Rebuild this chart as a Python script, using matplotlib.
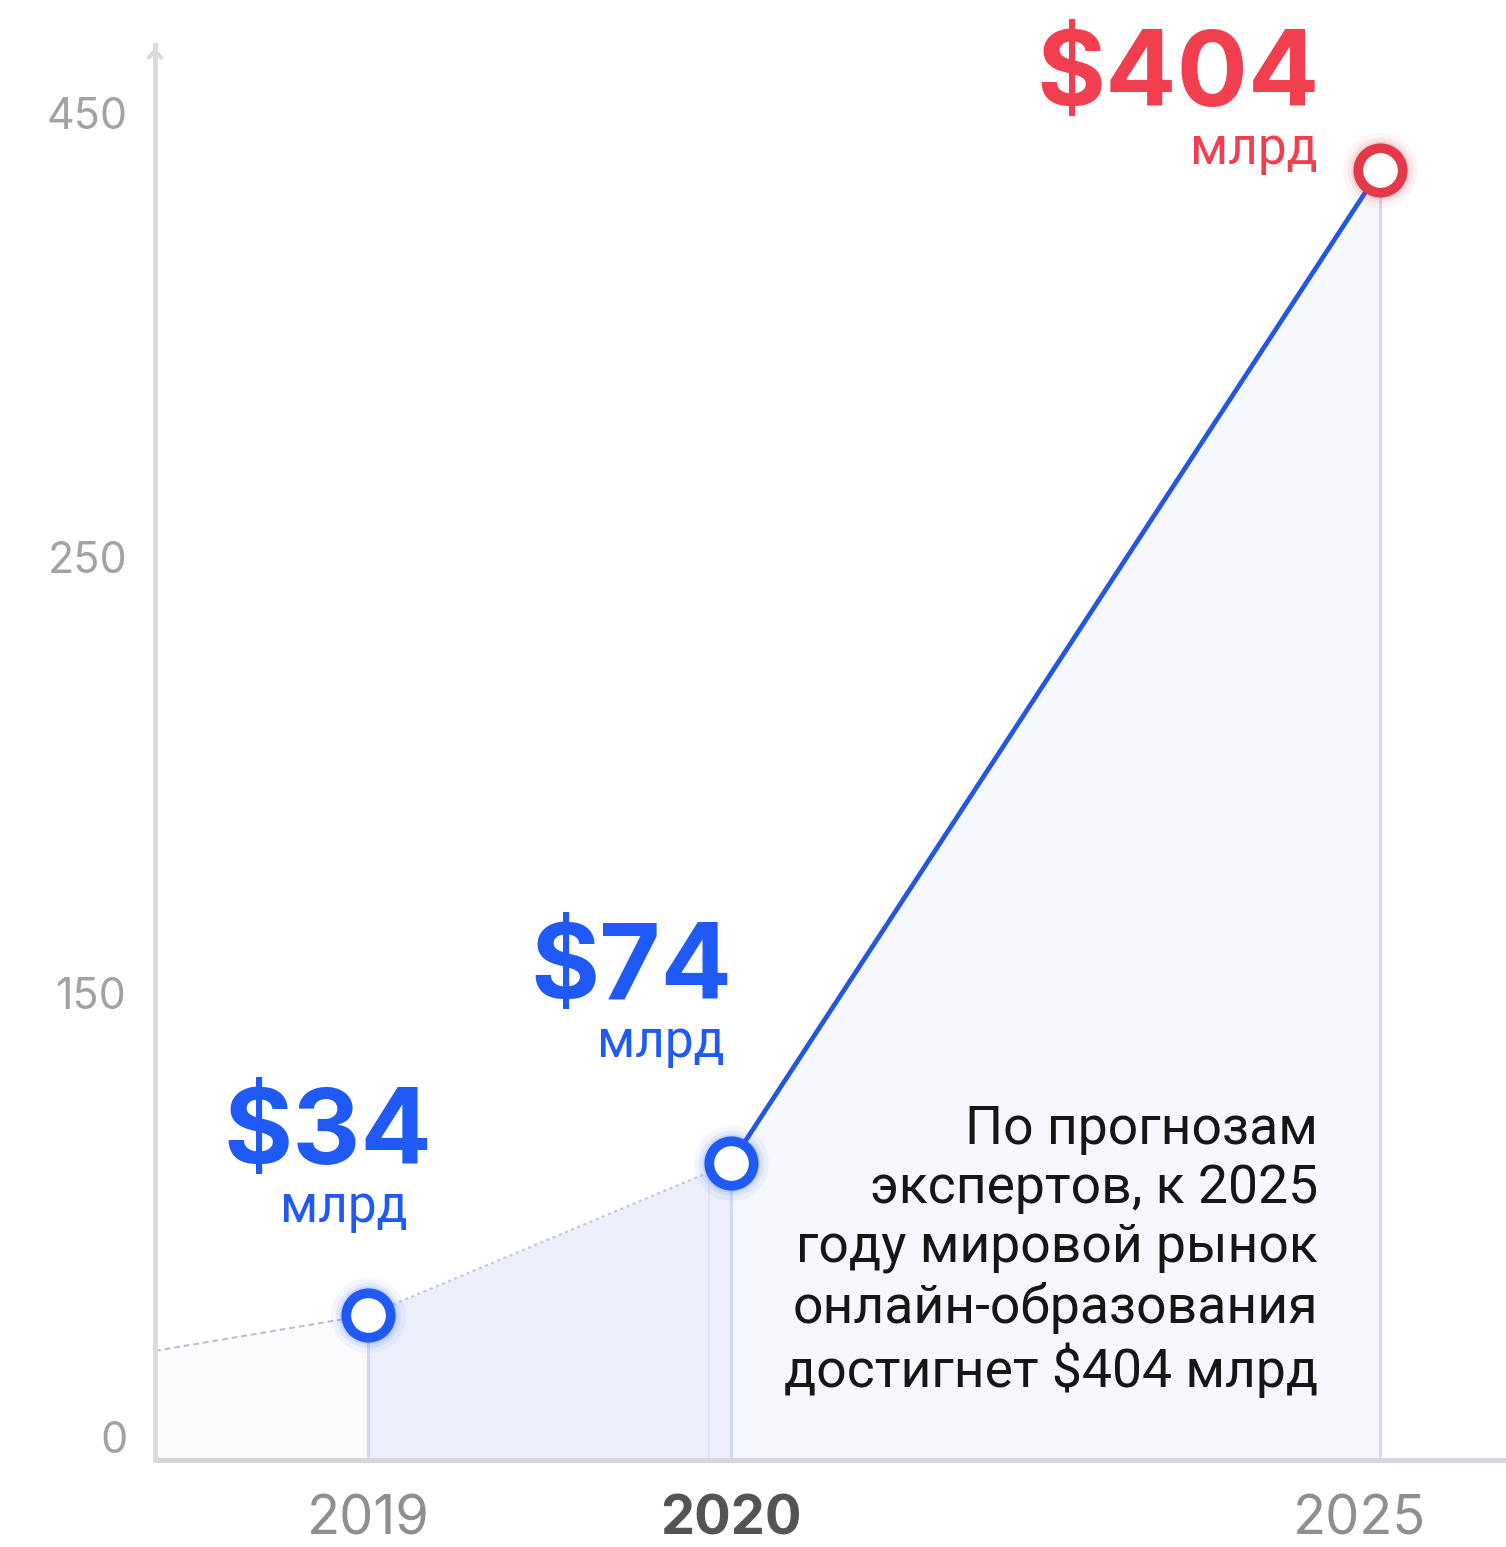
import numpy as np
import matplotlib
matplotlib.use("Agg")
import matplotlib.pyplot as plt
from matplotlib.transforms import ScaledTranslation

# ---------------- data ----------------
years = [2019, 2020, 2025]
values = [34, 74, 404]          # market size, $ bn
lead_value = 24                 # value of the line where it enters at the left edge
value_labels = ["$34", "$74", "$404"]
unit_label = "млрд"
ytick_values = [0, 150, 250, 450]
ytick_labels = ["0", "150", "250", "450"]
xtick_labels = ["2019", "2020", "2025"]
note = ("По прогнозам\nэкспертов, к 2025\nгоду мировой рынок\n"
        "онлайн-образования\nдостигнет $404 млрд")

# ---------------- layout / style ----------------
W, H = 1506, 1547
FONT = ["Inter", "DejaVu Sans"]
TEXT_FONT = ["Roboto", "DejaVu Sans"]
BLUE = "#1f5af6"
LINE_BLUE = "#2556e2"
RED = "#f23f50"
RING_RED = "#e23a48"

# decorative (non-linear) scales of the original infographic, in axis pixels
yk_val = [-5, 0, 34, 74, 150, 250, 404, 450, 505]
yk_px = [0, 23, 145, 297, 467, 903, 1290, 1347, 1415]
xk_val = [2018, 2019, 2020, 2025, 2026]
xk_px = [-150, 213, 576, 1225, 1355]


def fy(v):
    return np.interp(v, yk_val, yk_px, left=-1e3, right=1e4)


def fy_inv(p):
    return np.interp(p, yk_px, yk_val)


def fx(v):
    return np.interp(v, xk_val, xk_px)


def fx_inv(p):
    return np.interp(p, xk_px, xk_val)


plt.rcParams["font.family"] = FONT
fig = plt.figure(figsize=(W / 100, H / 100), dpi=100)
ax = fig.add_axes([155 / W, 87 / H, 1351 / W, 1415 / H])
ax.set_xscale("function", functions=(fx, fx_inv))
ax.set_yscale("function", functions=(fy, fy_inv))
x_left, x_right = 2018.413, 2025.97
y_bot, y_top = -5, 505
ax.set_xlim(x_left, x_right)
ax.set_ylim(y_bot, y_top)

# ---------------- area fills ----------------
ax.fill_between([x_left, years[0]], [lead_value, values[0]], y_bot,
                color="#fbfbfe", lw=0, zorder=1)
ax.fill_between(years[0:2], values[0:2], y_bot, color="#edf0fc", lw=0, zorder=1)
ax.fill_between(years[1:3], values[1:3], y_bot, color="#f6f8fe", lw=0, zorder=1)

# vertical guides
for x, v in zip(years, values):
    ax.plot([x, x], [y_bot, v], color="#d3d8f6", lw=2.2, zorder=2,
            solid_capstyle="butt")
ax.plot([years[1] - 0.06, years[1] - 0.06], [y_bot, values[1] * 0.95],
        color="#e2e5f8", lw=1.5, zorder=2)

# ---------------- lines ----------------
ax.plot([x_left, years[0]], [lead_value, values[0]], color="#b9bccb",
        lw=1.4, ls=(0, (3, 2)), zorder=3)
ax.plot(years[0:2], values[0:2], color="#c4c8dc", lw=1.6, ls=(0, (1.5, 1.5)),
        zorder=3)
ax.plot(years[1:3], values[1:3], color=LINE_BLUE, lw=3.4, zorder=4,
        solid_capstyle="round")

# ---------------- markers with glow ----------------
ring_colors = [BLUE, BLUE, RING_RED]
for x, v, c in zip(years, values, ring_colors):
    for ms, a in [(54, 0.05), (47, 0.08), (42, 0.12)]:
        ax.plot([x], [v], "o", ms=ms, color=c, alpha=a, mew=0, zorder=5)
    ax.plot([x], [v], "o", ms=32, mfc="white", mec=c, mew=7, zorder=6)

# ---------------- value labels ----------------
label_colors = [BLUE, BLUE, RED]
big_off = [(64, 151), (1, 164), (-60, 64)]
small_off = [(40, 93), (-6, 106), (-62, 6)]
for x, v, t, c, bo, so in zip(years, values, value_labels, label_colors,
                              big_off, small_off):
    ax.annotate(t, (x, v), xytext=bo, textcoords="offset pixels",
                ha="right", va="baseline", fontsize=76, fontweight="bold",
                color=c, zorder=7, annotation_clip=False)
    ax.annotate(unit_label, (x, v), xytext=so, textcoords="offset pixels",
                ha="right", va="baseline", fontsize=37,
                family=TEXT_FONT, color=c, zorder=7, annotation_clip=False)

# note
fig.text(1318 / W, 1 - 1387 / H, note, ha="right", va="baseline",
         fontsize=38.5, family=TEXT_FONT,
         color="#161616", linespacing=1.2, zorder=8)

# ---------------- axes styling ----------------
for s in ["top", "right"]:
    ax.spines[s].set_visible(False)
ax.spines["left"].set_color("#dcdcdc")
ax.spines["left"].set_linewidth(3.6)
ax.spines["bottom"].set_color("#d6d7de")
ax.spines["bottom"].set_linewidth(3.6)
ax.spines["left"].set_zorder(9)

ax.annotate("", xy=(0, 1.0), xycoords="axes fraction",
            xytext=(0, 0.97), textcoords="axes fraction",
            arrowprops=dict(arrowstyle="->,head_length=0.5,head_width=0.45",
                            color="#d8d8d8", lw=2.8))

ax.set_yticks(ytick_values, ytick_labels)
ax.tick_params(axis="y", length=0, pad=20, labelsize=31, labelcolor="#a2a2a2")
ax.set_xticks(years, xtick_labels)
ax.tick_params(axis="x", length=0, pad=25, labelsize=39, labelcolor="#8f8f8f")
for lbl in ax.get_xticklabels():
    if lbl.get_text() == "2020":
        lbl.set_fontweight("bold")
        lbl.set_color("#545454")
    if lbl.get_text() == "2025":
        lbl.set_transform(lbl.get_transform() +
                          ScaledTranslation(-20 / 100, 0, fig.dpi_scale_trans))

fig.savefig("out.png", dpi=100, facecolor="white")
